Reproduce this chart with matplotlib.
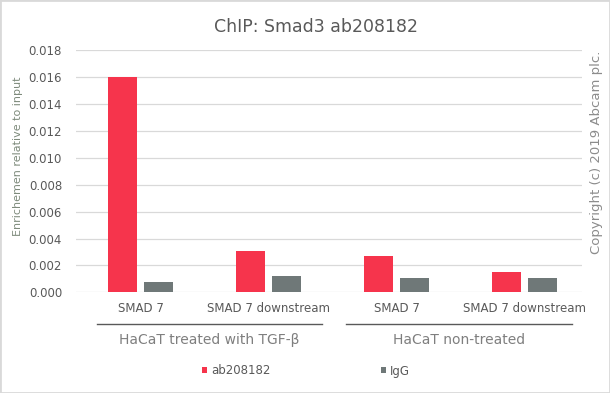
"""
ChIP chart for Smad3 ab208182 — saves out.png.

Grouped bars (ab208182 vs IgG) for two targets in two HaCaT conditions,
with a second row of group labels under the category labels.
"""

import matplotlib
matplotlib.use("Agg")
import matplotlib.pyplot as plt
import matplotlib.transforms as mtransforms
from matplotlib.patches import Rectangle
import numpy as np

RED    = "#F6344C"
GRAY   = "#6F7878"
TEXT   = "#595959"
LIGHT  = "#7F7F7F"
GRID   = "#D9D9D9"

categories = ["SMAD 7", "SMAD 7 downstream", "SMAD 7", "SMAD 7 downstream"]
groups = ["HaCaT treated with TGF-\u03b2", "HaCaT non-treated"]
ab208182 = [0.0160, 0.0031, 0.0027, 0.0015]
igg = [0.00077, 0.0012, 0.0011, 0.0011]
yticks = [0.000, 0.002, 0.004, 0.006, 0.008, 0.010, 0.012, 0.014, 0.016, 0.018]

plt.rcParams.update({
    "font.family": ["DejaVu Sans"],
    "font.size": 8.5,
})


def chart():
    fig = plt.figure(figsize=(6.1, 3.93), dpi=100)
    W, H = 610, 393
    ax = fig.add_axes([76 / W, 1 - 292.3 / H, (582 - 76) / W, (292.3 - 50.3) / H])

    x = np.arange(len(categories))
    width = 0.227
    off = 0.1407
    b1 = ax.bar(x - off, ab208182, width, color=RED, zorder=2, label="ab208182")
    b2 = ax.bar(x + off, igg, width, color=GRAY, zorder=2, label="IgG")

    ax.set_xlim(-0.507, 3.45)
    ax.set_ylim(0, 0.018)
    ax.set_yticks(yticks)
    ax.set_yticklabels([f"{v:.3f}" for v in yticks], color=TEXT, fontsize=8.5)
    ax.set_xticks(x)
    ax.set_xticklabels(categories, color=TEXT, fontsize=8.5)
    ax.tick_params(axis="both", length=0)
    ax.tick_params(axis="y", pad=10)
    ax.tick_params(axis="x", pad=7)
    ax.grid(axis="y", color=GRID, linewidth=0.9, zorder=1)
    for s in ax.spines.values():
        s.set_visible(False)

    # second level of category axis: group lines + labels
    tr = mtransforms.blended_transform_factory(ax.transData, fig.transFigure)
    spans = [(-0.345, 1.42), (1.604, 3.369)]
    for (a, b), name in zip(spans, groups):
        ax.plot([a, b], [1 - 324.3 / H] * 2, color=TEXT, linewidth=1,
                transform=tr, clip_on=False)
        ax.text((a + b) / 2, 1 - 340 / H, name, transform=tr, ha="center",
                va="center", fontsize=10, color=LIGHT)

    fig.text(316 / W, 1 - 26.7 / H, "ChIP: Smad3 ab208182", ha="center",
             va="center", fontsize=12.5, color=TEXT)
    fig.text(18 / W, 1 - 156.7 / H, "Enrichemen relative to input",
             rotation=90, ha="center", va="center", fontsize=8, color="#7D8A7B")
    fig.text(596.7 / W, 1 - 152.5 / H, "Copyright (c) 2019 Abcam plc.",
             rotation=90, ha="center", va="center", fontsize=9.5, color="#8C8C8C")

    fig.legend(handles=[b1, b2], loc="center", bbox_to_anchor=(306 / W, 1 - 371 / H),
               ncol=2, frameon=False, handlelength=0.45, handleheight=0.45,
               handletextpad=0.35, columnspacing=9.3, fontsize=8.5,
               labelcolor=TEXT, borderpad=0)

    fig.patches.append(Rectangle((0, 0), 1, 1, transform=fig.transFigure,
                                 fill=False, edgecolor=GRID, linewidth=2))

    fig.savefig("out.png", dpi=100)
    plt.close(fig)


if __name__ == "__main__":
    chart()
